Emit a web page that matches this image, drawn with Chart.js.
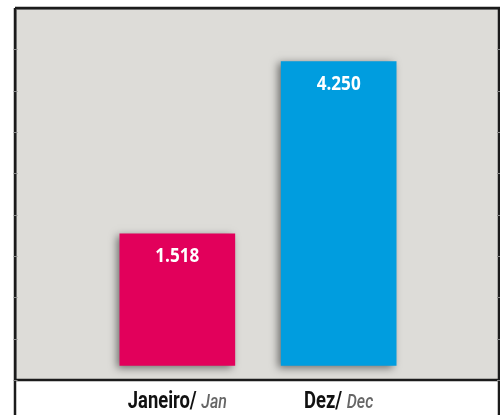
<!DOCTYPE html>
<html>
<head>
<meta charset="utf-8">
<script src="https://cdn.jsdelivr.net/npm/chart.js@4.4.1/dist/chart.umd.min.js"></script>
<style>
html,body{margin:0;padding:0;background:#fff;}
#wrap{width:500px;height:415px;}
</style>
</head>
<body>
<div id="wrap"><canvas id="c" width="500" height="415"></canvas></div>
<script>
const categories = ['Janeiro/', 'Dez/'];
const categoriesEn = ['Jan', 'Dec'];
const values = [1518, 4250];
const valueLabels = ['1.518', '4.250'];
const barColors = ['#E2005B', '#009DDF'];

const framePlugin = {
  id: 'frame',
  beforeDraw(chart) {
    const {ctx, chartArea: a} = chart;
    ctx.save();
    ctx.fillStyle = '#DDDCD8';
    ctx.fillRect(a.left, a.top, a.right - a.left, a.bottom - a.top);
    ctx.restore();
  },
  beforeDatasetsDraw(chart) {
    const ctx = chart.ctx;
    ctx.save();
    ctx.shadowColor = 'rgba(0,0,0,0.5)';
    ctx.shadowBlur = 8;
    ctx.shadowOffsetX = -3;
    ctx.shadowOffsetY = 2;
  },
  afterDatasetsDraw(chart) {
    const {ctx, chartArea: a, scales} = chart;
    ctx.restore();
    // frame
    ctx.save();
    ctx.strokeStyle = '#8c8c8c';
    ctx.lineWidth = 1;
    ctx.strokeRect(a.left + 0.5, a.top + 1.5, a.right - a.left - 2, a.bottom - a.top - 2);
    ctx.strokeStyle = '#1b1b1b';
    ctx.lineWidth = 2.5;
    ctx.beginPath();
    ctx.moveTo(a.left - 1, a.top); ctx.lineTo(a.right, a.top);
    ctx.moveTo(a.left - 1, a.top); ctx.lineTo(a.left - 1, chart.height);
    ctx.moveTo(a.right - 1, a.top); ctx.lineTo(a.right - 1, chart.height);
    ctx.moveTo(a.left - 1, a.bottom); ctx.lineTo(a.right, a.bottom);
    ctx.stroke();
    // tick marks
    ctx.strokeStyle = '#8a8a8a';
    ctx.lineWidth = 1;
    ctx.beginPath();
    scales.y.ticks.forEach(t => {
      const y = Math.round(scales.y.getPixelForValue(t.value)) + 0.5;
      if (y < a.top + 3) return;
      ctx.moveTo(a.left - 2.5, y); ctx.lineTo(a.left + 1.5, y);
      ctx.moveTo(a.right - 3, y); ctx.lineTo(a.right, y);
    });
    ctx.stroke();
    // value labels
    const meta = chart.getDatasetMeta(0);
    ctx.fillStyle = '#ffffff';
    ctx.font = 'bold 19px "Open Sans", "Liberation Sans", sans-serif';
    ctx.textAlign = 'center';
    ctx.textBaseline = 'alphabetic';
    meta.data.forEach((bar, i) => {
      ctx.save();
      ctx.translate(bar.x, bar.y + 28);
      ctx.scale(0.9, 1);
      ctx.fillText(valueLabels[i], 0, 0);
      ctx.restore();
    });
    // category labels (condensed)
    ctx.textAlign = 'left';
    const sx = 0.8;
    const fMain = 'bold 23px Roboto, "Liberation Sans", sans-serif';
    const fSub = 'italic 500 20px Roboto, "Liberation Sans", sans-serif';
    categories.forEach((c, i) => {
      const x = scales.x.getPixelForValue(i);
      ctx.font = fMain;
      const w1 = ctx.measureText(c + ' ').width * sx;
      ctx.font = fSub;
      const w2 = ctx.measureText(categoriesEn[i]).width * sx;
      const x0 = x - (w1 + w2) / 2;
      const yb = a.bottom + 28;
      ctx.save();
      ctx.translate(x0, yb);
      ctx.scale(sx, 1);
      ctx.font = fMain;
      ctx.fillStyle = '#111111';
      ctx.fillText(c, 0, 0);
      ctx.font = fSub;
      ctx.fillStyle = '#666666';
      ctx.fillText(categoriesEn[i], w1 / sx, 0);
      ctx.restore();
    });
    ctx.restore();
  }
};

new Chart(document.getElementById('c'), {
  type: 'bar',
  data: {
    datasets: [{
      data: values.map((v, i) => ({x: i, y: v})),
      backgroundColor: barColors,
      borderWidth: 0,
      base: -570,
      barThickness: 115
    }]
  },
  options: {
    responsive: false,
    animation: false,
    layout: {padding: {left: 16, right: 0, top: 8, bottom: 35}},
    plugins: {legend: {display: false}, tooltip: {enabled: false}},
    scales: {
      x: {type: 'linear', min: -1, max: 2, display: false, offset: false},
      y: {
        type: 'linear', min: -800, max: 5100, display: false,
        afterBuildTicks(scale) {
          const n = 9, ticks = [];
          for (let k = 0; k <= n; k++) ticks.push({value: scale.min + (scale.max - scale.min) * k / n});
          scale.ticks = ticks;
        }
      }
    }
  },
  plugins: [framePlugin]
});
</script>
</body>
</html>
